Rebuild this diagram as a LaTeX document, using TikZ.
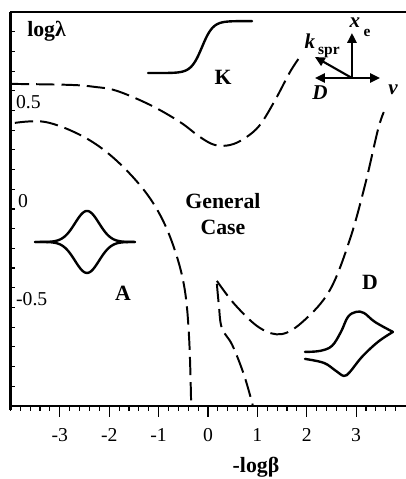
\documentclass[tikz,border=0pt]{standalone}
\usepackage{fontspec}
\setmainfont{Liberation Serif}
\usetikzlibrary{arrows.meta}

\begin{document}
\begin{tikzpicture}[x=1.235cm, y=4.925cm,
  every node/.style={font=\fontsize{14}{16}\selectfont, inner sep=0pt},
  region/.style={font=\fontsize{15.5}{18.5}\selectfont\bfseries},
  vlbl/.style={font=\fontsize{15}{17}\selectfont\bfseries\itshape},
  sublbl/.style={font=\fontsize{11}{13}\selectfont\bfseries},
  bound/.style={line width=1.4pt, dash pattern=on 13pt off 5pt},
  icon/.style={line width=1.7pt, line join=round, line cap=round},
  vec/.style={line width=1.5pt, -{Triangle[length=7pt,width=6.5pt]}},
  px/.style={x=0.025cm, y=0.025cm}]
  \useasboundingbox (-4.211,-1.371) rectangle (4.008,1.061);

  % frame, ticks
  \draw[line width=1.1pt] (-4,1) -- (4.01,1);
  \draw[line width=2pt] (-4,1) -- (-4,-1.02);
  \draw[line width=2pt] (-4.02,-1) -- (4.01,-1);
  \foreach \i in {1,...,19}
    \draw[line width=0.8pt] (-4,{-1+\i/10}) -- ++(0.125cm,0);
  \foreach \i in {0,...,39}
    \draw[line width=0.8pt] ({-4+\i/5},-1) -- ++(0,-0.125cm);
  \foreach \x in {-3,...,3} {
    \draw[line width=0.9pt] (\x,-1) -- ++(0,-0.275cm);
    \node (xt\x) at (\x,-1.147) {\x};
  }
  \node[anchor=base west] (yt1) at (-3.89,0.51) {0.5};
  \node[anchor=base west] (yt2) at (-3.85,0.01) {0};
  \node[anchor=base west] (yt3) at (-3.89,-0.49) {-0.5};

  \node[region, anchor=base west] (ylab) at (-3.664,0.878) {logλ};
  \node[region] (xlab) at (0.972,-1.31) {-logβ};

  % region boundaries
  \draw[bound] plot[smooth, tension=0.6] coordinates {(-3.99,0.635) (-2.8,0.63) (-2.3,0.62)
    (-1.85,0.60) (-1.17,0.528) (-0.57,0.442) (-0.16,0.365) (0.14,0.325) (0.45,0.325)
    (0.75,0.36) (1.05,0.426) (1.36,0.553) (1.66,0.695) (1.86,0.772)};
  \draw[bound] plot[smooth, tension=0.6] coordinates {(-3.91,0.437) (-3.3,0.442) (-2.59,0.376)
    (-1.98,0.274) (-1.38,0.122) (-0.97,-0.03) (-0.67,-0.21) (-0.47,-0.41) (-0.38,-0.665)
    (-0.34,-1)};
  \draw[bound] plot[smooth, tension=0.6] coordinates {(0.18,-0.365) (0.55,-0.487) (1.05,-0.604)
    (1.5,-0.635) (1.96,-0.563) (2.47,-0.411) (2.87,-0.157) (3.18,0.122) (3.44,0.401)
    (3.56,0.492)};
  \draw[bound] plot[smooth, tension=0.6] coordinates {(0.18,-0.38) (0.22,-0.487) (0.28,-0.604)
    (0.49,-0.69) (0.73,-0.843) (0.91,-1)};

  % region labels
  \node[region] (kreg) at (0.304,0.67) {K};
  \node[region, align=center] (greg) at (0.304,-0.025) {General\\Case};
  \node[region] (areg) at (-1.721,-0.426) {A};
  \node[region] (dreg) at (3.279,-0.371) {D};

  % icons
  \coordinate (kicon) at (-0.121,0.822);
  \begin{scope}[shift={(kicon)}, px]
    \draw[icon] plot[domain=-54:50, samples=80] (\x,{26*tanh(\x/11)});
  \end{scope}
  \coordinate (aicon) at (-2.449,-0.1675);
  \begin{scope}[shift={(aicon)}, px]
    \draw[icon] plot[domain=-52:48, samples=90] (\x,{31*exp(-0.5*(\x/12)*(\x/12))});
    \draw[icon] plot[domain=-52:48, samples=90] (\x,{-31*exp(-0.5*(\x/12)*(\x/12))});
  \end{scope}
  \coordinate (dicon) at (2.874,-0.675);
  \begin{scope}[shift={(dicon)}, px]
    \draw[icon] plot[smooth, tension=0.6] coordinates {(-45,-10) (-30,-9) (-18,-4) (-9,10)
      (-2,25) (6,30) (14,29) (25,20) (43,10)};
    \draw[icon] plot[smooth, tension=0.6] coordinates {(43,10) (28,0) (12,-15) (0,-30)
      (-6,-34) (-14,-29) (-26,-21) (-45,-17)};
  \end{scope}

  % force diagram
  \coordinate (vo) at (2.915,0.665);
  \begin{scope}[shift={(vo)}, px]
    \coordinate (vv) at (28,0);
    \coordinate (vd) at (-37,0);
    \coordinate (vx) at (0,45);
    \coordinate (vk) at (-37,21);
    \draw[vec] (vo) -- (vv);
    \draw[vec] (vo) -- (vd);
    \draw[vec] (vo) -- (vx);
    \draw[vec] (vo) -- (vk);
    \node[vlbl] (xe) at (3,55) {x};
    \node[sublbl] (xesub) at (15,45) {e};
    \node[vlbl] (kspr) at (-42,37) {k};
    \node[sublbl] (ksprsub) at (-23,26) {spr};
    \node[vlbl] (dlbl) at (-32,-15) {D};
    \node[vlbl] (vlbl) at (41,-12) {v};
  \end{scope}
\end{tikzpicture}
\end{document}
